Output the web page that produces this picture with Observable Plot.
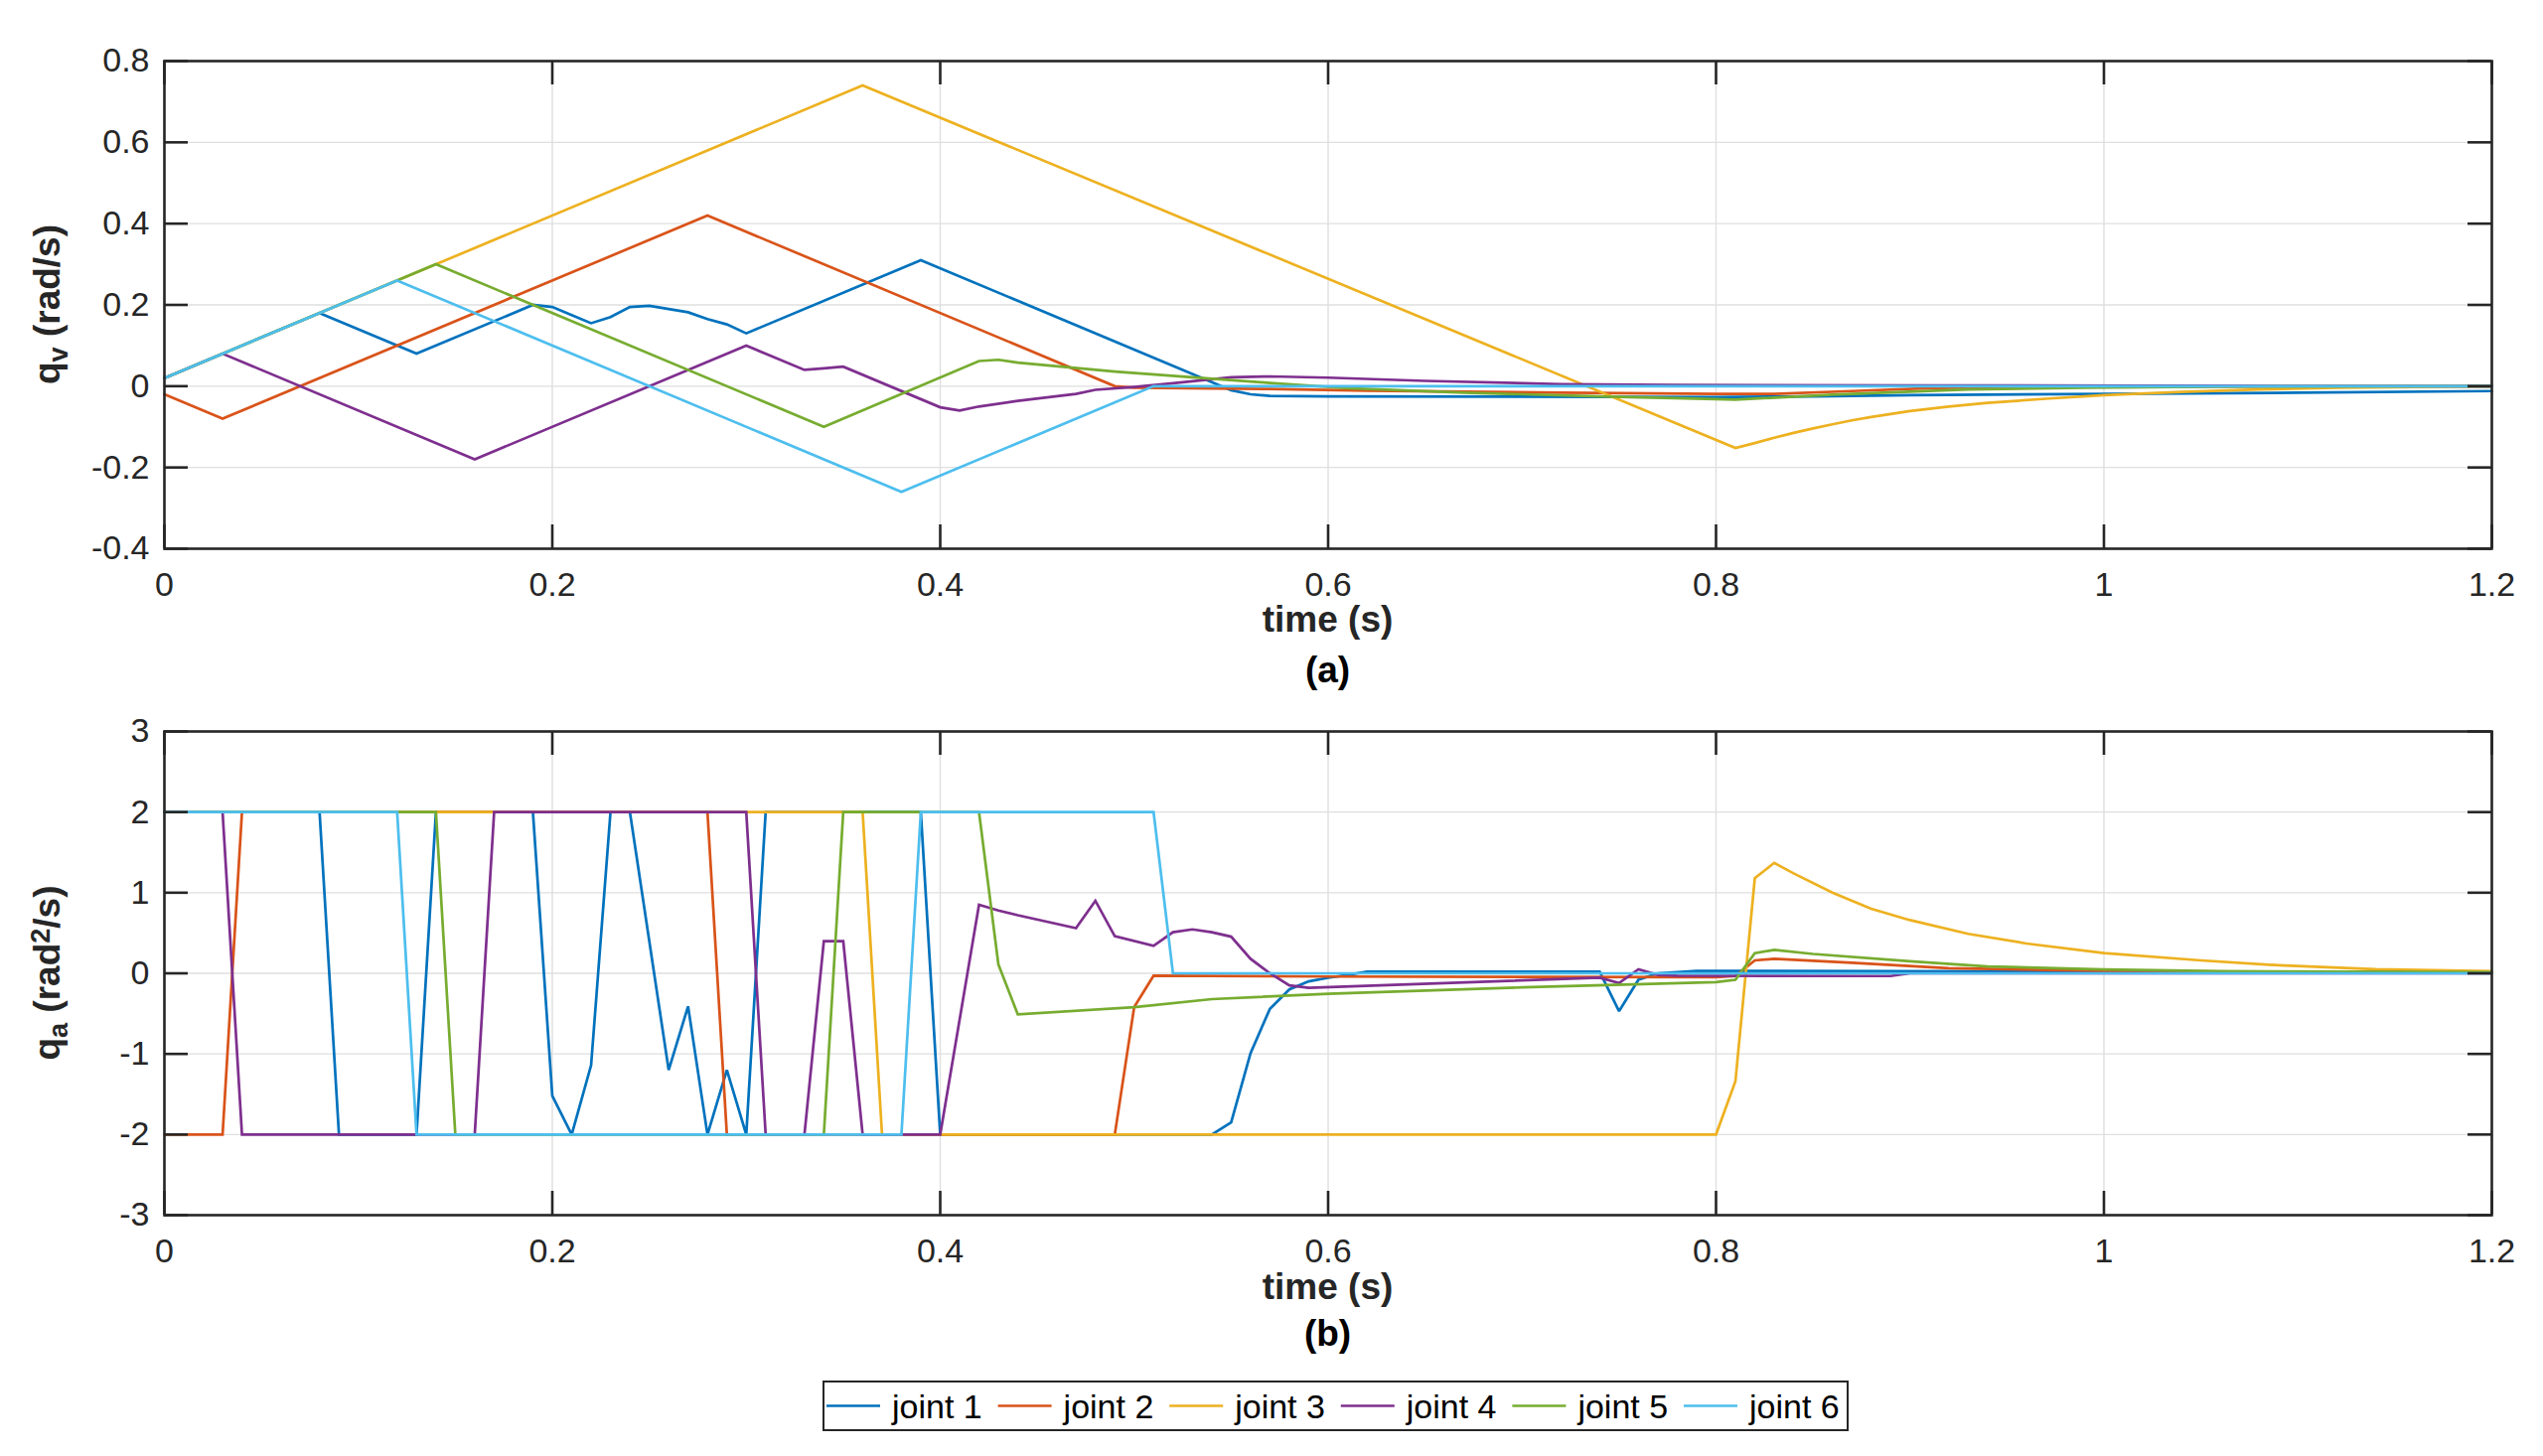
<!DOCTYPE html>
<html>
<head>
<meta charset="utf-8">
<script src="https://cdn.jsdelivr.net/npm/d3@7"></script>
<script src="https://cdn.jsdelivr.net/npm/@observablehq/plot@0.6"></script>
<style>
  html, body { margin: 0; padding: 0; background: #ffffff; }
  #root { position: relative; width: 2560px; height: 1466px; background: #ffffff; overflow: hidden; }
  .panel { position: absolute; left: 0; }
  #legend { position: absolute; left: 828px; top: 1390px; }
</style>
</head>
<body>
<div id="root">
  <div id="pa" class="panel" style="top:0px"></div>
  <div id="pb" class="panel" style="top:700px"></div>
  <div id="legend"></div>
</div>
<script>
// ---------- data ----------
const joints = ["joint 1", "joint 2", "joint 3", "joint 4", "joint 5", "joint 6"];
const colors = ["#0072BD", "#D95319", "#EDB120", "#7E2F8E", "#77AC30", "#4DBEEE"];

const xTicks = [0, 0.2, 0.4, 0.6, 0.8, 1, 1.2];
const xTickLabels = ["0", "0.2", "0.4", "0.6", "0.8", "1", "1.2"];
const velTicks = [-0.4, -0.2, 0, 0.2, 0.4, 0.6, 0.8];
const velTickLabels = ["-0.4", "-0.2", "0", "0.2", "0.4", "0.6", "0.8"];
const accTicks = [-3, -2, -1, 0, 1, 2, 3];
const accTickLabels = ["-3", "-2", "-1", "0", "1", "2", "3"];

// (a) joint velocity q_v, [time, value] vertices
const vel1 = [[0,0.02],[0.08,0.18],[0.13,0.08],[0.19,0.20],[0.20,0.195],[0.21,0.175],[0.22,0.155],[0.23,0.17],[0.24,0.195],[0.25,0.198],[0.26,0.19],[0.27,0.182],[0.28,0.165],[0.29,0.152],[0.30,0.13],[0.39,0.31],[0.54,0.01],[0.55,-0.01],[0.56,-0.02],[0.57,-0.024],[0.60,-0.025],[0.80,-0.027],[0.85,-0.025],[0.90,-0.022],[1.0,-0.019],[1.1,-0.016],[1.2,-0.012]];
const vel2 = [[0,-0.02],[0.03,-0.08],[0.28,0.42],[0.49,0.0],[0.50,-0.004],[0.57,-0.007],[0.62,-0.011],[0.72,-0.016],[0.80,-0.019],[0.83,-0.019],[0.87,-0.012],[0.91,-0.005],[0.95,-0.002],[1.2,0]];
const vel3 = [[0,0.02],[0.36,0.74],[0.81,-0.152],[0.82,-0.14],[0.83,-0.127],[0.84,-0.115],[0.85,-0.104],[0.86,-0.094],[0.87,-0.084],[0.88,-0.076],[0.90,-0.061],[0.92,-0.05],[0.94,-0.041],[0.97,-0.031],[1.0,-0.022],[1.04,-0.014],[1.08,-0.008],[1.12,-0.004],[1.16,-0.002],[1.2,0]];
const vel4 = [[0,0.02],[0.03,0.08],[0.16,-0.18],[0.30,0.10],[0.33,0.04],[0.34,0.044],[0.35,0.048],[0.40,-0.052],[0.41,-0.06],[0.42,-0.05],[0.44,-0.036],[0.47,-0.019],[0.48,-0.009],[0.50,-0.002],[0.52,0.007],[0.55,0.022],[0.57,0.024],[0.60,0.021],[0.65,0.013],[0.72,0.005],[0.78,0.003],[0.91,0.002],[1.2,0]];
const vel5 = [[0,0.02],[0.14,0.30],[0.34,-0.10],[0.42,0.062],[0.43,0.065],[0.44,0.058],[0.49,0.036],[0.53,0.022],[0.57,0.008],[0.61,-0.005],[0.67,-0.016],[0.74,-0.025],[0.80,-0.032],[0.81,-0.033],[0.86,-0.021],[0.93,-0.008],[0.99,-0.004],[1.07,-0.001],[1.2,0]];
const vel6 = [[0,0.02],[0.12,0.26],[0.38,-0.26],[0.51,0.0],[0.52,0.0],[1.2,0.0]];

// (b) joint acceleration q_a, [time, value] vertices
const acc1 = [[0,2],[0.08,2],[0.09,-2],[0.13,-2],[0.14,2],[0.19,2],[0.20,-1.52],[0.21,-2],[0.22,-1.14],[0.23,2],[0.24,2],[0.26,-1.2],[0.27,-0.41],[0.28,-2],[0.29,-1.2],[0.30,-2],[0.31,2],[0.39,2],[0.40,-2],[0.54,-2],[0.55,-1.85],[0.56,-0.99],[0.57,-0.44],[0.58,-0.2],[0.59,-0.1],[0.60,-0.055],[0.61,-0.02],[0.62,0.02],[0.74,0.02],[0.75,-0.47],[0.76,-0.08],[0.77,0.0],[0.79,0.03],[1.0,0.02],[1.2,0.02]];
const acc2 = [[0,-2],[0.03,-2],[0.04,2],[0.28,2],[0.29,-2],[0.49,-2],[0.50,-0.42],[0.51,-0.03],[0.60,-0.04],[0.70,-0.045],[0.80,-0.047],[0.81,-0.034],[0.82,0.16],[0.83,0.18],[0.87,0.13],[0.92,0.064],[1.0,0.03],[1.1,0.015],[1.2,0.01]];
const acc3 = [[0,2],[0.36,2],[0.37,-2],[0.80,-2],[0.81,-1.34],[0.82,1.18],[0.83,1.37],[0.84,1.24],[0.86,1.0],[0.88,0.8],[0.90,0.66],[0.93,0.49],[0.96,0.37],[1.0,0.25],[1.05,0.16],[1.09,0.10],[1.14,0.05],[1.2,0.026]];
const acc4 = [[0,2],[0.03,2],[0.04,-2],[0.16,-2],[0.17,2],[0.30,2],[0.31,-2],[0.33,-2],[0.34,0.4],[0.35,0.4],[0.36,-2],[0.40,-2],[0.42,0.85],[0.43,0.78],[0.44,0.72],[0.47,0.56],[0.48,0.90],[0.49,0.46],[0.51,0.34],[0.52,0.51],[0.53,0.545],[0.54,0.51],[0.55,0.455],[0.56,0.18],[0.57,0.0],[0.58,-0.15],[0.59,-0.18],[0.74,-0.055],[0.75,-0.12],[0.76,0.05],[0.77,-0.02],[0.78,-0.03],[0.89,-0.034],[0.90,0],[1.2,0]];
const acc5 = [[0,2],[0.14,2],[0.15,-2],[0.34,-2],[0.35,2],[0.42,2],[0.43,0.11],[0.44,-0.51],[0.50,-0.42],[0.54,-0.32],[0.60,-0.255],[0.70,-0.175],[0.80,-0.11],[0.81,-0.08],[0.82,0.25],[0.83,0.29],[0.85,0.24],[0.90,0.15],[0.94,0.085],[1.0,0.047],[1.06,0.026],[1.2,0.013]];
const acc6 = [[0,2],[0.12,2],[0.13,-2],[0.38,-2],[0.39,2],[0.51,2],[0.52,0],[1.2,0]];

// ---------- build tables ----------
const velSeries = [vel1, vel2, vel3, vel4, vel5, vel6];
const accSeries = [acc1, acc2, acc3, acc4, acc5, acc6];
const toRows = (series) => series.flatMap((s, i) => s.map(([t, v]) => ({t, v, joint: joints[i]})));
const velRows = toRows(velSeries);
const accRows = toRows(accSeries);

// ---------- styling ----------
const W = 2560;
const ML = 165, MR = 52;
const FW = W - ML - MR;
const ink = "#262626";
const gridColor = "#dfdfdf";
const tickLen = 24;
const font = "'Liberation Sans', Arial, Helvetica, sans-serif";

function panel({rows, yDomain, yTicks, yLabels, height, marginTop, marginBottom}) {
  const FH = height - marginTop - marginBottom;
  const fmtX = (d) => xTickLabels[xTicks.indexOf(d)];
  const fmtY = (d) => yLabels[yTicks.indexOf(d)];
  return Plot.plot({
    width: W,
    height,
    marginLeft: ML,
    marginRight: MR,
    marginTop,
    marginBottom,
    style: {background: "#ffffff", color: ink, fontFamily: font, fontSize: "34px", overflow: "visible"},
    x: {domain: [0, 1.2], label: null},
    y: {domain: yDomain, label: null},
    color: {domain: joints, range: colors},
    marks: [
      // grid
      Plot.ruleX(xTicks, {x: (d) => d, stroke: gridColor, strokeWidth: 1.4}),
      Plot.ruleY(yTicks, {y: (d) => d, stroke: gridColor, strokeWidth: 1.4}),
      // data
      Plot.line(rows, {x: "t", y: "v", z: "joint", stroke: "joint", strokeWidth: 2.7, strokeLinejoin: "miter", strokeMiterlimit: 2}),
      // inward ticks on all four sides
      Plot.ruleX(xTicks, {x: (d) => d, insetTop: FH - tickLen, stroke: ink, strokeWidth: 2.6}),
      Plot.ruleX(xTicks, {x: (d) => d, insetBottom: FH - tickLen, stroke: ink, strokeWidth: 2.6}),
      Plot.ruleY(yTicks, {y: (d) => d, insetRight: FW - tickLen, stroke: ink, strokeWidth: 2.6}),
      Plot.ruleY(yTicks, {y: (d) => d, insetLeft: FW - tickLen, stroke: ink, strokeWidth: 2.6}),
      // tick labels
      Plot.axisX({ticks: xTicks, tickFormat: fmtX, tickSize: 0, tickPadding: 23, fontSize: 34, label: null, fill: ink}),
      Plot.axisY({ticks: yTicks, tickFormat: fmtY, tickSize: 0, tickPadding: 15, fontSize: 34, label: null, fill: ink}),
      Plot.frame({stroke: ink, strokeWidth: 2.6})
    ]
  });
}

function addLabels(svg, {cy, yLabelParts, xLabelBaseline, tagBaseline, tag}) {
  const s = d3.select(svg);
  const cx = ML + FW / 2;
  s.append("text")
    .attr("x", cx).attr("y", xLabelBaseline)
    .attr("text-anchor", "middle")
    .attr("font-family", font).attr("font-size", 37).attr("font-weight", "bold")
    .attr("fill", ink)
    .text("time (s)");
  s.append("text")
    .attr("x", cx).attr("y", tagBaseline)
    .attr("text-anchor", "middle")
    .attr("font-family", font).attr("font-size", 37).attr("font-weight", "bold")
    .attr("fill", "#000000")
    .text(tag);
  const t = s.append("text")
    .attr("transform", `translate(60,${cy}) rotate(-90)`)
    .attr("text-anchor", "middle")
    .attr("font-family", font).attr("font-size", 37).attr("font-weight", "bold")
    .attr("fill", ink);
  for (const p of yLabelParts) {
    const ts = t.append("tspan").text(p.text);
    if (p.shift === "sub") ts.attr("baseline-shift", "-28%").attr("font-size", 27);
    if (p.shift === "sup") ts.attr("baseline-shift", "38%").attr("font-size", 27);
  }
}

// panel (a)
const HA = 700, MTA = 61, MBA = 148;
const svgA = panel({rows: velRows, yDomain: [-0.4, 0.8], yTicks: velTicks, yLabels: velTickLabels, height: HA, marginTop: MTA, marginBottom: MBA});
addLabels(svgA, {
  cy: (MTA + HA - MBA) / 2,
  yLabelParts: [{text: "q"}, {text: "v", shift: "sub"}, {text: " (rad/s)"}],
  xLabelBaseline: HA - MBA + 84,
  tagBaseline: HA - MBA + 135,
  tag: "(a)"
});
document.getElementById("pa").appendChild(svgA);

// panel (b)
const HB = 690, MTB = 36, MBB = 167;
const svgB = panel({rows: accRows, yDomain: [-3, 3], yTicks: accTicks, yLabels: accTickLabels, height: HB, marginTop: MTB, marginBottom: MBB});
addLabels(svgB, {
  cy: (MTB + HB - MBB) / 2,
  yLabelParts: [{text: "q"}, {text: "a", shift: "sub"}, {text: " (rad"}, {text: "2", shift: "sup"}, {text: "/s)"}],
  xLabelBaseline: HB - MBB + 85,
  tagBaseline: HB - MBB + 132,
  tag: "(b)"
});
document.getElementById("pb").appendChild(svgB);

// legend
(function legend() {
  const LW = 1033, LH = 51, step = 172.6;
  const svg = d3.select("#legend").append("svg").attr("width", LW).attr("height", LH);
  svg.append("rect").attr("x", 1).attr("y", 1).attr("width", LW - 2).attr("height", LH - 2)
    .attr("fill", "#ffffff").attr("stroke", ink).attr("stroke-width", 2);
  joints.forEach((j, i) => {
    const x0 = 4 + i * step;
    svg.append("line").attr("x1", x0).attr("x2", x0 + 54).attr("y1", LH / 2).attr("y2", LH / 2)
      .attr("stroke", colors[i]).attr("stroke-width", 2.7);
    svg.append("text").attr("x", x0 + 66).attr("y", LH / 2 + 12)
      .attr("font-family", font).attr("font-size", 34).attr("fill", "#000000")
      .text(j);
  });
})();
</script>
</body>
</html>
